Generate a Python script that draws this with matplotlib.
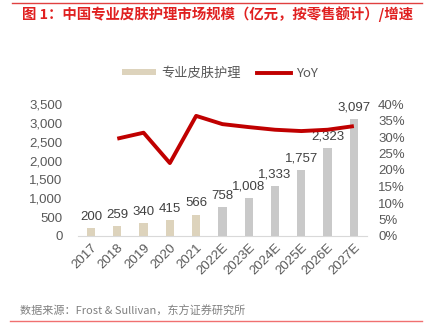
import matplotlib
matplotlib.use("Agg")
import matplotlib.pyplot as plt
from matplotlib.lines import Line2D
from matplotlib.patches import Patch

plt.rcParams['font.family'] = ['Liberation Sans', 'Noto Sans CJK SC', 'DejaVu Sans']

years = ["2017", "2018", "2019", "2020", "2021", "2022E", "2023E", "2024E", "2025E", "2026E", "2027E"]
market = [200, 259, 340, 415, 566, 758, 1008, 1333, 1757, 2323, 3097]
yoy = [None, 29.5, 31.3, 22.1, 36.4, 33.9, 33.0, 32.2, 31.8, 32.2, 33.3]
n_actual = 5

title = "图 1：中国专业皮肤护理市场规模（亿元，按零售额计）/增速"
source = "数据来源：Frost & Sullivan，东方证券研究所"

W, H = 426, 325
fig = plt.figure(figsize=(W / 100, H / 100), dpi=100)

beige = "#DDD3BC"
grey = "#C9C9C9"
red = "#C00000"
txt = "#595959"

left, right, top, bottom = 77.85, 367, 104, 236
ax = fig.add_axes([left / W, 1 - bottom / H, (right - left) / W, (bottom - top) / H])
ax2 = ax.twinx()

x = list(range(len(years)))
colors = [beige if i < n_actual else grey for i in x]
bars = ax.bar(x, market, width=0.32, color=colors, zorder=2)
for xi, v in zip(x, market):
    ax.annotate(f"{v:,}", (xi, v), xytext=(0, 4), textcoords="offset points",
                ha="center", va="bottom", fontsize=9.5, color="#404040", zorder=1)

xs = [xi for xi, v in zip(x, yoy) if v is not None]
ys = [v for v in yoy if v is not None]
ax2.plot(xs, ys, color=red, lw=2.8, solid_capstyle="butt", zorder=5)

ax.set_xlim(-0.5, len(years) - 0.5)
ax.set_ylim(0, 3500)
ax.set_yticks(range(0, 3501, 500))
ax.set_yticklabels([f"{v:,}" for v in range(0, 3501, 500)])
ax2.set_ylim(0, 40)
ax2.set_yticks(range(0, 41, 5))
ax2.set_yticklabels([f"{v}%" for v in range(0, 41, 5)])

ax.set_xticks(x)
ax.set_xticklabels(years, rotation=45, ha="right", va="top", rotation_mode="anchor")

for a in (ax, ax2):
    for s in a.spines.values():
        s.set_visible(False)
    a.tick_params(length=0, labelsize=9.5, colors=txt)
ax.spines["bottom"].set_visible(True)
ax.spines["bottom"].set_color("#D9D9D9")
ax.tick_params(axis="y", pad=11)
ax2.tick_params(axis="y", pad=8)
ax.tick_params(axis="x", pad=4)
ax2.set_zorder(ax.get_zorder() + 1)
ax2.patch.set_visible(False)

handles = [Patch(facecolor=beige, edgecolor="none"),
           Line2D([0], [0], color=red, lw=2.8)]
leg = fig.legend(handles, ["专业皮肤护理", "YoY"], loc="center", bbox_to_anchor=(220 / W, 1 - 73 / H),
                 ncol=2, frameon=False, fontsize=9.5, handlelength=2.6, handleheight=0.35,
                 columnspacing=1.2, handletextpad=0.4)
for t in leg.get_texts():
    t.set_color(txt)
    t.set_fontfamily(['Noto Sans CJK SC', 'Liberation Sans'])

fig.text(22 / W, 1 - 14 / H, title, ha="left", va="center", fontsize=10.4, fontweight="bold",
         color="#E02020", family=['Noto Sans CJK SC', 'DejaVu Sans'])
fig.add_artist(Line2D([12 / W, 422 / W], [1 - 3 / H, 1 - 3 / H], color="#E04040", lw=1))
fig.text(20 / W, 1 - 311 / H, source, ha="left", va="center", fontsize=8, color="#808080",
         family=['Noto Sans CJK SC', 'DejaVu Sans'])
fig.add_artist(Line2D([10 / W, 422 / W], [1 - 321 / H, 1 - 321 / H], color="#F07070", lw=1))

fig.savefig("out.png", dpi=100)
